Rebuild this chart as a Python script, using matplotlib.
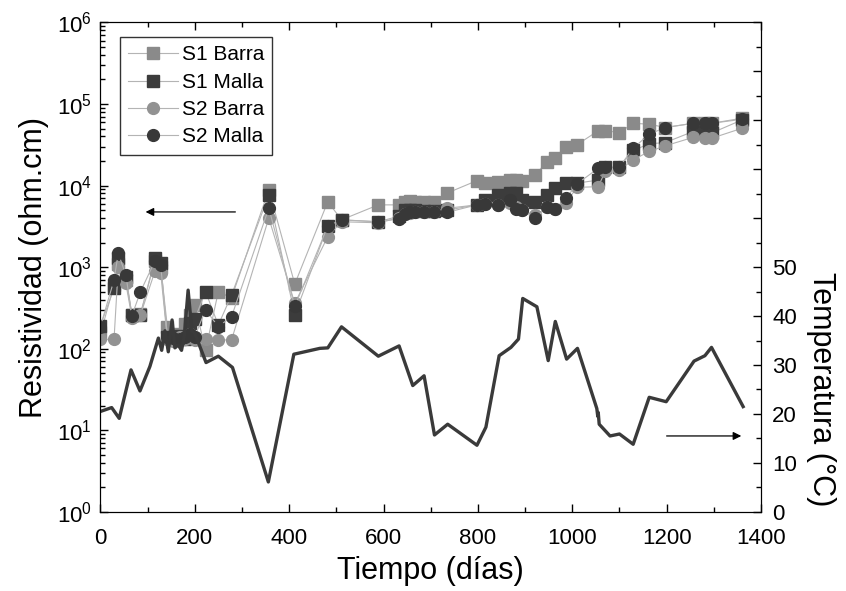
import numpy as np
import matplotlib
matplotlib.use("Agg")
import matplotlib.pyplot as plt
from matplotlib.ticker import MultipleLocator, LogLocator, NullFormatter

plt.rcParams['font.family'] = ['Liberation Sans', 'DejaVu Sans']

# sampling days for the resistivity series
dias = [0, 29, 38, 54, 67, 85, 116, 128, 142, 155, 168, 180, 190, 200, 223, 250, 278,
        357, 412, 482, 511, 589, 632, 646, 656, 667, 686, 707, 735, 798, 816, 843,
        868, 880, 893, 922, 946, 963, 987, 1010, 1055, 1070, 1100, 1129, 1163, 1197,
        1256, 1281, 1295, 1360]

s1_barra = [150, 600, 1100, 700, 260, 270, 1200, 1000, 186, 150, 130, 200, 260, 345, 96, 500, 420,
            8900, 620, 6350, 3800, 5800, 5800, 6350, 6500, 6350, 6350, 6350, 8100, 11500, 10700, 11200,
            11700, 11700, 11500, 13500, 19700, 22000, 30000, 31700, 47000, 47000, 44700, 58000, 56600, 51500,
            58000, 58000, 58000, 67000]

s1_malla = [190, 550, 1290, 750, 258, 260, 1290, 1110, 140, 130, 145, 130, 205, 230, 500, 195, 455,
            7700, 260, 3200, 3800, 3600, 4200, 5000, 5000, 5000, 4900, 4900, 5000, 5800, 6650, 7700,
            8100, 8100, 6650, 6350, 7700, 9300, 10700, 10700, 11700, 16800, 16800, 27000, 32500, 33700,
            46000, 44000, 44000, 64000]

s2_barra = [130, 130, 1000, 635, 240, 260, 900, 840, 130, 125, 140, 130, 150, 128, 130, 128, 128,
            4000, 360, 2370, 3600, 3500, 4000, 4500, 4600, 4700, 4700, 4800, 5270, 5800, 5900, 5800,
            6200, 5500, 5000, 4300, 5400, 5200, 6200, 9500, 9700, 15000, 15500, 20700, 26200, 30700,
            39000, 38000, 38000, 50500]

s2_malla = [186, 695, 1480, 800, 255, 500, 1200, 1050, 140, 135, 130, 140, 150, 140, 300, 186, 247,
            5300, 330, 3200, 3800, 3600, 3900, 4500, 4700, 4700, 4680, 4700, 4700, 5800, 6000, 5800,
            6650, 5200, 5000, 4000, 5400, 5200, 7000, 10500, 16300, 16800, 17000, 28700, 42700, 51500,
            58000, 58000, 58000, 65000]

# temperature record
dias_t = [0, 24, 40, 65, 84, 105, 123, 130, 137, 144, 152, 158, 165, 172, 178, 186, 194, 200,
          210, 224, 250, 280, 356, 410, 465, 482, 511, 589, 633, 662, 686, 708, 736, 798, 817,
          845, 870, 886, 895, 925, 949, 964, 988, 1011, 1052, 1054, 1055, 1057, 1080, 1100, 1129,
          1163, 1199, 1258, 1281, 1295, 1362]
temp = [20.5, 21.3, 19.1, 29.0, 24.7, 29.7, 35.5, 33.0, 37.0, 32.7, 39.2, 33.5, 34.1, 33.0, 36.0,
        45.3, 37.0, 36.5, 34.0, 30.5, 31.8, 29.5, 6.1, 32.2, 33.4, 33.5, 37.8, 31.8, 33.9, 25.8,
        27.8, 15.7, 17.9, 13.6, 17.3, 31.9, 33.6, 35.3, 43.6, 41.9, 30.9, 38.9, 31.2, 33.4, 21.1,
        19.5, 20.3, 17.9, 15.5, 15.9, 13.8, 23.4, 22.5, 30.8, 31.9, 33.6, 21.5]

fig = plt.figure(figsize=(8.46, 5.91), dpi=100)
ax = fig.add_axes([0.1186, 0.134, 0.781, 0.828])

line_c = '#b4b4b4'
ax.plot(dias, s1_barra, '-s', color=line_c, lw=0.8, ms=8, mfc='#8a8a8a', mec='#8a8a8a', label='S1 Barra')
ax.plot(dias, s1_malla, '-s', color=line_c, lw=0.8, ms=8, mfc='#3c3c3c', mec='#3c3c3c', label='S1 Malla')
ax.plot(dias, s2_barra, '-o', color=line_c, lw=0.8, ms=8.5, mfc='#929292', mec='#929292', label='S2 Barra')
ax.plot(dias, s2_malla, '-o', color=line_c, lw=0.8, ms=8.5, mfc='#383838', mec='#383838', label='S2 Malla')

ax.set_yscale('log')
ax.set_ylim(1, 1e6)
ax.set_xlim(0, 1400)
ax.xaxis.set_major_locator(MultipleLocator(200))
ax.xaxis.set_minor_locator(MultipleLocator(100))
ax.yaxis.set_minor_locator(LogLocator(base=10, subs=np.arange(2, 10)))
ax.yaxis.set_minor_formatter(NullFormatter())
ax.tick_params(which='both', direction='in', top=True, right=False, labelsize=16)
ax.tick_params(which='major', length=6, width=1)
ax.tick_params(which='minor', length=3.5, width=1)
ax.tick_params(axis='x', which='major', pad=12)
ax.tick_params(axis='y', which='major', pad=6)
ax.set_xlabel('Tiempo (días)', fontsize=22, labelpad=5)
ax.set_ylabel('Resistividad (ohm.cm)', fontsize=22, labelpad=6)

ax.annotate('', xy=(90, 4750), xytext=(292, 4750),
            arrowprops=dict(arrowstyle='-|>', color='black', lw=0.9, mutation_scale=12))

leg = ax.legend(loc='upper left', bbox_to_anchor=(0.03, 0.97), fontsize=15, frameon=True,
                fancybox=False, edgecolor='black', handlelength=2.4, handletextpad=0.15,
                borderpad=0.4, labelspacing=0.4, borderaxespad=0)
leg.get_frame().set_linewidth(1.0)

ax2 = ax.twinx()
ax2.plot(dias_t, temp, color='#3a3a3a', lw=2.4)
ax2.set_ylim(0, 100)
ax2.set_yticks(range(0, 101, 10))
ax2.set_yticklabels([str(v) if v <= 50 else '' for v in range(0, 101, 10)])
ax2.yaxis.set_minor_locator(MultipleLocator(5))
ax2.tick_params(which='both', direction='in', labelsize=16)
ax2.tick_params(which='major', length=6, width=1, pad=8)
ax2.tick_params(which='minor', length=3.5, width=1)
ax2.set_ylabel('Temperatura (°C)', fontsize=22, rotation=270, labelpad=28, y=0.25)

ax2.annotate('', xy=(1364, 15.5), xytext=(1194, 15.5),
             arrowprops=dict(arrowstyle='-|>', color='black', lw=0.9, mutation_scale=12))

fig.savefig('out.png', dpi=100)
